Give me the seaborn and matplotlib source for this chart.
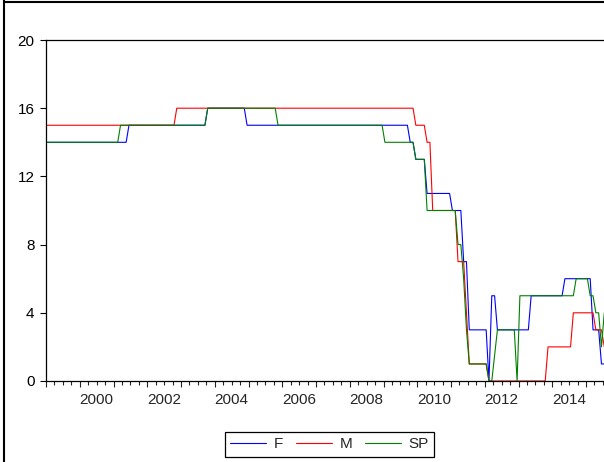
import numpy as np
import pandas as pd
import matplotlib
matplotlib.use("Agg")
import matplotlib.pyplot as plt
from matplotlib.lines import Line2D
import seaborn as sns

# monthly observations starting Jan 1999, stored as (value, number of months)
start_year = 1999
f_runs = [(14, 29), (15, 28), (16, 14), (15, 58), (14, 2), (13, 4), (11, 9),
          (10, 4), (7, 2), (3, 7), (0, 1), (5, 2), (3, 12), (5, 12), (6, 10),
          (3, 3), (1, 2)]
m_runs = [(15, 46), (16, 85), (15, 4), (14, 2), (10, 9), (7, 3), (4, 1),
          (1, 7), (0, 21), (2, 9), (4, 8), (3, 3), (2, 1)]
sp_runs = [(14, 26), (15, 31), (16, 25), (15, 38), (14, 11), (13, 4), (10, 11),
           (8, 2), (6, 1), (3, 1), (1, 7), (0, 2), (1.5, 1), (3, 7), (0, 1),
           (5, 20), (6, 5), (5, 2), (4, 2), (2, 1), (4, 1)]

series_names = ["F", "M", "SP"]
colors = {"F": "#0000ff", "M": "#ff0000", "SP": "#008000"}

y_ticks = [0, 4, 8, 12, 16, 20]
label_years = [2000, 2002, 2004, 2006, 2008, 2010, 2012, 2014]


def expand(runs):
    return np.repeat([v for v, _ in runs], [n for _, n in runs])


values = [expand(f_runs), expand(m_runs), expand(sp_runs)]
n = len(values[0])
# each month drawn at the middle of its period
t = start_year + (np.arange(n) + 0.5) / 12.0
df = pd.DataFrame({
    "t": np.tile(t, 3),
    "value": np.concatenate(values),
    "series": np.repeat(series_names, n),
})

sns.set_style("ticks")
plt.rcParams["font.family"] = ["Liberation Sans", "DejaVu Sans"]

fig = plt.figure(figsize=(6.04, 4.62), dpi=100)
ax = fig.add_axes([46 / 604, 81 / 462, 558 / 604, 341 / 462])

sns.lineplot(data=df, x="t", y="value", hue="series", palette=colors,
             linewidth=0.8, ax=ax, legend=False)

ax.set_xlim(start_year, start_year + 558 / 33.75)
ax.set_ylim(0, 20)
ax.set_xlabel("")
ax.set_ylabel("")

ax.set_yticks(y_ticks)
ax.tick_params(axis="y", direction="out", length=4.3, width=0.8,
               labelsize=11, pad=4, colors="black")

years = np.arange(start_year, 2016)
ax.set_xticks(years)
ax.set_xticklabels([])
ax.set_xticks(np.arange(start_year, 2015.6, 0.25), minor=True)
ax.tick_params(axis="x", which="major", direction="out", length=4.5, width=0.8)
ax.tick_params(axis="x", which="minor", direction="out", length=2.8, width=0.8)

sec = ax.secondary_xaxis("bottom")
sec.set_xticks(np.array(label_years) + 0.5)
sec.set_xticklabels([str(y) for y in label_years])
sec.tick_params(length=0, labelsize=11, pad=9)
sec.spines["bottom"].set_visible(False)

for side in ["left", "bottom", "top"]:
    ax.spines[side].set_linewidth(0.9)
    ax.spines[side].set_color("black")
ax.spines["right"].set_visible(False)

# outer frame of the exported graph
fig.add_artist(Line2D([3.5 / 604, 3.5 / 604], [0, 1], transform=fig.transFigure,
                      color="black", lw=1.5))
fig.add_artist(Line2D([3.5 / 604, 1], [1 - 1.5 / 462, 1 - 1.5 / 462],
                      transform=fig.transFigure, color="black", lw=1.5))

handles = [Line2D([], [], color=colors[s], lw=0.8) for s in series_names]
leg = ax.legend(handles, series_names, loc="upper center",
                bbox_to_anchor=(329.5 / 604, 1 - 432 / 462),
                bbox_transform=fig.transFigure, ncol=3, frameon=True,
                fancybox=False, edgecolor="black", framealpha=1,
                handlelength=2.35, handletextpad=0.5, columnspacing=0.85,
                borderpad=0.35, borderaxespad=0, fontsize=11)
leg.get_frame().set_linewidth(0.9)

fig.savefig("out.png", dpi=100)
